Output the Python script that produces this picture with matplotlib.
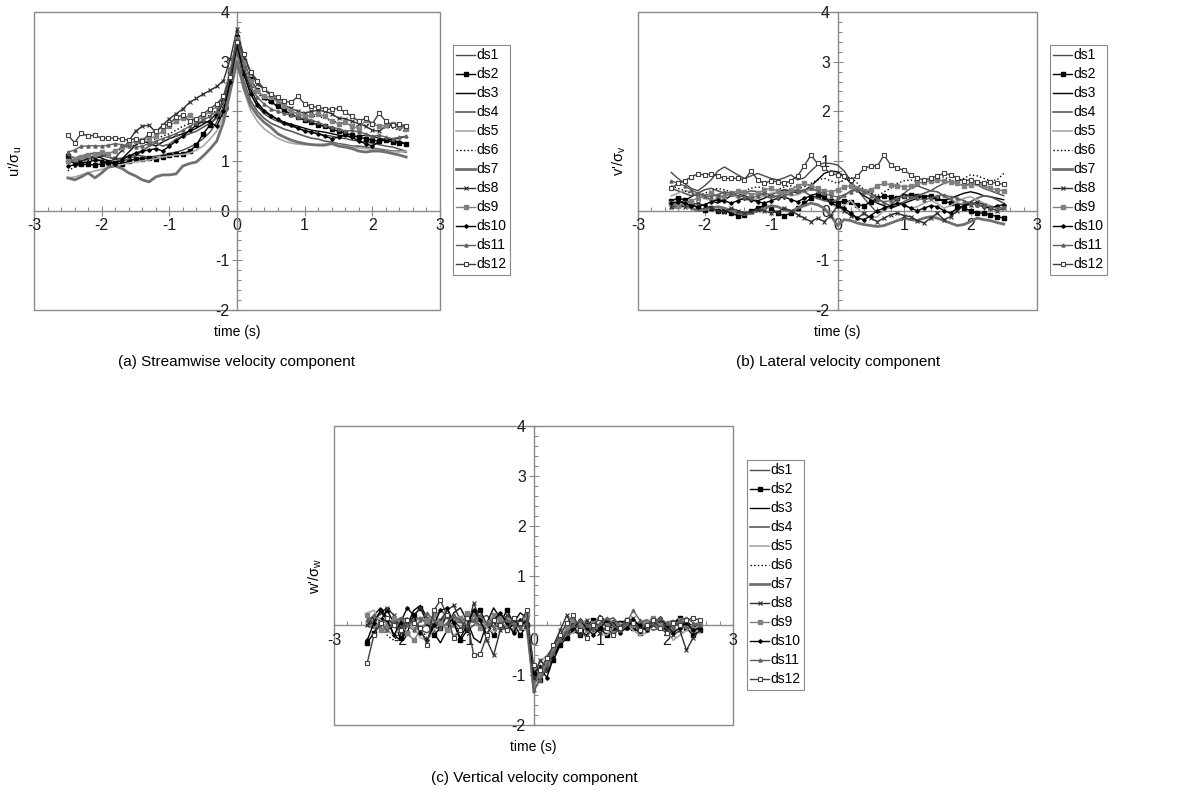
import numpy as np
import matplotlib
matplotlib.use('Agg')
import matplotlib.pyplot as plt
from matplotlib.patches import Rectangle
from matplotlib.ticker import MultipleLocator

plt.rcParams['font.family'] = ['Liberation Sans', 'DejaVu Sans']
plt.rcParams['mathtext.fontset'] = 'custom'
plt.rcParams['mathtext.rm'] = 'Liberation Sans'
plt.rcParams['mathtext.it'] = 'Liberation Sans:italic'
plt.rcParams['axes.unicode_minus'] = False

# --- time axis (s)
time_s = [-2.5, -2.4, -2.3, -2.2, -2.1, -2.0, -1.9, -1.8, -1.7, -1.6,
          -1.5, -1.4, -1.3, -1.2, -1.1, -1.0, -0.9, -0.8, -0.7, -0.6,
          -0.5, -0.4, -0.3, -0.2, -0.1,
          0.0,
          0.1, 0.2, 0.3, 0.4, 0.5,
          0.6, 0.7, 0.8, 0.9, 1.0, 1.1, 1.2, 1.3, 1.4, 1.5,
          1.6, 1.7, 1.8, 1.9, 2.0, 2.1, 2.2, 2.3, 2.4, 2.5]

series_names = ['ds1', 'ds2', 'ds3', 'ds4', 'ds5', 'ds6',
                'ds7', 'ds8', 'ds9', 'ds10', 'ds11', 'ds12']

# ------ (a) streamwise u'/sigma_u
u_ds1 = [1.05, 1.02, 1.00, 1.03, 1.08, 1.10, 1.08, 1.04, 1.06, 1.10,
         1.12, 1.10, 1.08, 1.10, 1.12, 1.15, 1.18, 1.22, 1.28, 1.35,
         1.45, 1.58, 1.78, 2.10, 2.62,
         3.30,
         2.78, 2.35, 2.10, 1.95, 1.86,
         1.80, 1.74, 1.70, 1.66, 1.62, 1.58, 1.55, 1.52, 1.50, 1.47,
         1.45, 1.42, 1.40, 1.38, 1.36, 1.33, 1.30, 1.28, 1.24, 1.20]
u_ds2 = [1.10, 0.98, 0.93, 0.93, 0.92, 0.94, 0.98, 0.96, 0.94, 1.00,
         1.04, 1.05, 1.06, 1.05, 1.08, 1.12, 1.14, 1.15, 1.20, 1.32,
         1.55, 1.72, 1.90, 2.20, 2.80,
         3.50,
         3.02, 2.65, 2.42, 2.28, 2.20,
         2.10, 2.02, 1.94, 1.88, 1.82, 1.78, 1.72, 1.70, 1.64, 1.60,
         1.56, 1.52, 1.48, 1.45, 1.42, 1.40, 1.42, 1.38, 1.36, 1.35]
u_ds3 = [1.00, 0.96, 1.00, 1.06, 1.10, 1.06, 1.00, 0.96, 1.04, 1.18,
         1.32, 1.40, 1.36, 1.30, 1.38, 1.45, 1.50, 1.55, 1.60, 1.66,
         1.74, 1.82, 1.96, 2.22, 2.72,
         3.40,
         2.85, 2.45, 2.18, 2.02, 1.92,
         1.84, 1.78, 1.74, 1.70, 1.66, 1.62, 1.60, 1.58, 1.55, 1.52,
         1.50, 1.48, 1.50, 1.52, 1.50, 1.46, 1.42, 1.44, 1.46, 1.50]
u_ds4 = [1.12, 1.06, 1.10, 1.14, 1.16, 1.12, 1.08, 1.04, 1.00, 1.04,
         1.10, 1.20, 1.30, 1.36, 1.30, 1.34, 1.44, 1.50, 1.55, 1.60,
         1.68, 1.76, 1.86, 2.06, 2.50,
         3.20,
         2.62, 2.22, 2.00, 1.86, 1.76,
         1.70, 1.64, 1.60, 1.55, 1.50, 1.46, 1.44, 1.40, 1.38, 1.35,
         1.33, 1.30, 1.30, 1.28, 1.26, 1.24, 1.22, 1.20, 1.20, 1.18]
u_ds5 = [0.66, 0.68, 0.72, 0.76, 0.80, 0.83, 0.86, 0.90, 0.93, 0.96,
         0.98, 1.00, 1.02, 1.05, 1.08, 1.10, 1.12, 1.13, 1.16, 1.22,
         1.30, 1.44, 1.60, 1.90, 2.40,
         3.08,
         2.42, 2.02, 1.80, 1.65, 1.55,
         1.46, 1.40, 1.36, 1.34, 1.33, 1.33, 1.33, 1.34, 1.35, 1.33,
         1.30, 1.28, 1.26, 1.25, 1.24, 1.22, 1.20, 1.19, 1.18, 1.20]
u_ds6 = [0.80, 0.88, 0.95, 1.00, 1.05, 1.10, 1.15, 1.20, 1.25, 1.30,
         1.32, 1.36, 1.40, 1.45, 1.50, 1.55, 1.62, 1.70, 1.75, 1.80,
         1.86, 1.92, 2.02, 2.22, 2.70,
         3.42,
         2.92, 2.56, 2.36, 2.25, 2.16,
         2.10, 2.05, 2.00, 1.96, 1.92, 1.90, 1.90, 1.86, 1.80, 1.78,
         1.75, 1.72, 1.70, 1.72, 1.76, 1.72, 1.70, 1.66, 1.62, 1.60]
u_ds7 = [0.66, 0.62, 0.68, 0.76, 0.66, 0.76, 0.88, 0.90, 0.85, 0.76,
         0.70, 0.62, 0.58, 0.68, 0.72, 0.72, 0.74, 0.90, 0.95, 0.98,
         1.10, 1.24, 1.40, 1.78, 2.40,
         3.00,
         2.48, 2.12, 1.92, 1.78, 1.68,
         1.55, 1.48, 1.42, 1.38, 1.35, 1.33, 1.32, 1.32, 1.35, 1.30,
         1.28, 1.25, 1.20, 1.18, 1.20, 1.20, 1.18, 1.15, 1.12, 1.08]
u_ds8 = [1.05, 1.00, 1.06, 1.10, 1.05, 1.00, 0.96, 1.06, 1.22, 1.40,
         1.60, 1.70, 1.72, 1.58, 1.72, 1.85, 1.95, 2.05, 2.18, 2.26,
         2.35, 2.42, 2.50, 2.62, 3.05,
         3.65,
         3.10, 2.78, 2.56, 2.44, 2.32,
         2.22, 2.12, 2.06, 2.00, 1.96, 2.00, 2.02, 2.00, 1.95, 1.86,
         1.85, 1.80, 1.75, 1.70, 1.62, 1.60, 1.70, 1.72, 1.70, 1.68]
u_ds9 = [1.00, 1.04, 1.08, 1.12, 1.15, 1.18, 1.15, 1.20, 1.28, 1.34,
         1.40, 1.42, 1.45, 1.50, 1.60, 1.70, 1.80, 1.86, 1.92, 1.80,
         1.90, 2.00, 2.10, 2.30, 2.85,
         3.45,
         3.00, 2.62, 2.40, 2.30, 2.28,
         2.20, 2.10, 2.00, 1.95, 1.90, 1.92, 1.95, 1.90, 1.80, 1.75,
         1.78, 1.70, 1.65, 1.82, 1.75, 1.70, 1.72, 1.75, 1.68, 1.65]
u_ds10 = [0.90, 0.92, 0.96, 0.98, 1.02, 1.00, 0.96, 0.94, 1.02, 1.10,
          1.16, 1.20, 1.22, 1.25, 1.20, 1.30, 1.40, 1.50, 1.62, 1.72,
          1.80, 1.78, 1.70, 2.00, 2.60,
          3.35,
          2.75, 2.35, 2.12, 2.00, 1.90,
          1.84, 1.76, 1.72, 1.66, 1.60, 1.58, 1.55, 1.50, 1.45, 1.48,
          1.52, 1.48, 1.40, 1.35, 1.30, 1.40, 1.45, 1.42, 1.38, 1.35]
u_ds11 = [1.18, 1.22, 1.30, 1.30, 1.31, 1.30, 1.32, 1.35, 1.33, 1.30,
          1.28, 1.30, 1.35, 1.40, 1.45, 1.50, 1.55, 1.62, 1.70, 1.76,
          1.82, 1.90, 2.00, 2.20, 2.75,
          3.45,
          2.90, 2.50, 2.28, 2.15, 2.05,
          2.00, 1.96, 1.92, 1.88, 1.85, 1.82, 1.78, 1.72, 1.68, 1.65,
          1.60, 1.62, 1.58, 1.55, 1.50, 1.52, 1.48, 1.45, 1.48, 1.50]
u_ds12 = [1.52, 1.37, 1.56, 1.50, 1.52, 1.46, 1.46, 1.46, 1.44, 1.42,
          1.45, 1.40, 1.55, 1.60, 1.70, 1.75, 1.88, 1.93, 1.80, 1.85,
          1.95, 2.05, 2.15, 2.30, 2.70,
          3.40,
          3.15, 2.80, 2.62, 2.45, 2.35,
          2.28, 2.20, 2.18, 2.30, 2.15, 2.10, 2.08, 2.05, 2.04, 2.06,
          1.98, 1.90, 1.80, 1.86, 1.75, 1.96, 1.80, 1.72, 1.75, 1.70]

# ------ (b) lateral v'/sigma_v
v_ds1 = [0.77, 0.65, 0.55, 0.45, 0.40, 0.50, 0.62, 0.80, 0.88, 0.80,
         0.72, 0.65, 0.70, 0.75, 0.70, 0.65, 0.62, 0.66, 0.72, 0.62,
         0.66, 0.80, 0.92, 0.96, 0.95,
         0.92,
         0.80, 0.60, 0.42, 0.25, 0.10,
         -0.05, 0.00, 0.10, 0.25, 0.35, 0.45, 0.50, 0.45, 0.40, 0.48,
         0.55, 0.60, 0.55, 0.50, 0.55, 0.52, 0.45, 0.40, 0.35, 0.30]
v_ds2 = [0.20, 0.25, 0.22, 0.15, 0.05, 0.02, 0.05, 0.00, 0.00, -0.05,
         -0.10, -0.08, 0.00, 0.05, 0.10, 0.05, -0.05, -0.10, -0.05, 0.05,
         0.15, 0.25, 0.30, 0.28, 0.20,
         0.15,
         0.20, 0.18, 0.12, 0.10, 0.18,
         0.25, 0.30, 0.28, 0.25, 0.30, 0.32, 0.30, 0.28, 0.30, 0.25,
         0.20, 0.15, 0.10, 0.05, 0.00, -0.05, -0.05, -0.08, -0.12, -0.15]
v_ds3 = [0.10, 0.15, 0.20, 0.28, 0.35, 0.30, 0.20, 0.15, 0.22, 0.30,
         0.35, 0.30, 0.25, 0.20, 0.25, 0.32, 0.38, 0.42, 0.40, 0.35,
         0.40, 0.50, 0.62, 0.75, 0.80,
         0.78,
         0.70, 0.55, 0.40, 0.30, 0.22,
         0.15, 0.10, 0.05, 0.10, 0.15, 0.20, 0.25, 0.30, 0.28, 0.22,
         0.20, 0.25, 0.30, 0.35, 0.38, 0.35, 0.30, 0.28, 0.25, 0.22]
v_ds4 = [0.45, 0.40, 0.35, 0.30, 0.35, 0.42, 0.45, 0.40, 0.35, 0.30,
         0.28, 0.35, 0.40, 0.38, 0.30, 0.25, 0.30, 0.35, 0.40, 0.42,
         0.38, 0.30, 0.25, 0.20, 0.18,
         0.22,
         0.30, 0.40, 0.45, 0.42, 0.35,
         0.25, 0.15, 0.10, 0.12, 0.18, 0.25, 0.30, 0.35, 0.40, 0.38,
         0.30, 0.22, 0.15, 0.12, 0.18, 0.25, 0.30, 0.28, 0.22, 0.15]
v_ds5 = [0.30, 0.35, 0.40, 0.38, 0.30, 0.25, 0.20, 0.25, 0.30, 0.32,
         0.28, 0.22, 0.20, 0.25, 0.30, 0.35, 0.38, 0.35, 0.30, 0.32,
         0.38, 0.42, 0.40, 0.30, 0.15,
         0.05,
         0.10, 0.20, 0.05, -0.08, -0.15,
         -0.12, 0.00, 0.10, 0.15, 0.10, 0.05, 0.08, 0.15, 0.20, 0.15,
         0.05, 0.10, 0.18, 0.25, 0.28, 0.22, 0.15, 0.10, 0.05, 0.00]
v_ds6 = [0.50, 0.45, 0.40, 0.35, 0.30, 0.35, 0.40, 0.45, 0.42, 0.38,
         0.35, 0.40, 0.45, 0.48, 0.45, 0.40, 0.42, 0.48, 0.50, 0.45,
         0.48, 0.55, 0.62, 0.65, 0.60,
         0.55,
         0.62, 0.68, 0.55, 0.42, 0.35,
         0.30, 0.38, 0.45, 0.55, 0.60, 0.62, 0.58, 0.55, 0.60, 0.65,
         0.68, 0.62, 0.58, 0.65, 0.72, 0.70, 0.65, 0.60, 0.62, 0.75]
v_ds7 = [0.05, 0.08, 0.10, 0.05, 0.00, 0.02, 0.05, 0.08, 0.05, 0.00,
         -0.05, -0.08, -0.05, 0.00, 0.05, 0.10, 0.08, 0.02, -0.02, 0.05,
         0.10, 0.15, 0.12, 0.05, -0.10,
         -0.30,
         -0.18, -0.20, -0.25, -0.28, -0.30,
         -0.32, -0.30, -0.25, -0.20, -0.15, -0.18, -0.20, -0.15, -0.12, -0.15,
         -0.20, -0.25, -0.30, -0.28, -0.22, -0.15, -0.18, -0.20, -0.24, -0.27]
v_ds8 = [0.08, 0.10, 0.08, 0.12, 0.15, 0.10, 0.05, 0.00, -0.02, 0.05,
         0.00, -0.05, -0.02, 0.02, 0.00, -0.05, -0.02, 0.05, 0.00, -0.08,
         -0.15, -0.22, -0.15, -0.22, -0.10,
         0.10,
         0.00, -0.10, -0.15, -0.05, -0.15,
         -0.22, -0.15, -0.08, -0.05, -0.10, -0.12, -0.20, -0.25, -0.15, -0.05,
         -0.18, -0.12, 0.00, 0.10, 0.12, 0.18, 0.12, 0.05, 0.00, 0.05]
v_ds9 = [0.15, 0.10, 0.15, 0.20, 0.25, 0.30, 0.35, 0.30, 0.28, 0.35,
         0.40, 0.38, 0.32, 0.35, 0.42, 0.45, 0.40, 0.35, 0.42, 0.50,
         0.55, 0.50, 0.45, 0.40, 0.38,
         0.42,
         0.48, 0.50, 0.45, 0.40, 0.42,
         0.50, 0.55, 0.52, 0.50, 0.48, 0.50, 0.55, 0.58, 0.60, 0.62,
         0.60, 0.58, 0.55, 0.50, 0.52, 0.55, 0.50, 0.45, 0.42, 0.40]
v_ds10 = [0.15, 0.18, 0.15, 0.10, 0.08, 0.12, 0.18, 0.22, 0.20, 0.15,
          0.20, 0.25, 0.22, 0.18, 0.15, 0.20, 0.25, 0.28, 0.22, 0.18,
          0.25, 0.30, 0.35, 0.28, 0.15,
          0.10,
          0.05, -0.05, -0.15, -0.18, -0.10,
          0.00, 0.05, 0.10, 0.15, 0.12, 0.05, 0.00, 0.05, 0.10, 0.08,
          0.00, -0.05, 0.05, 0.10, 0.15, 0.12, 0.08, 0.05, 0.10, 0.12]
v_ds11 = [0.60, 0.55, 0.50, 0.42, 0.35, 0.30, 0.28, 0.32, 0.38, 0.35,
          0.30, 0.28, 0.25, 0.30, 0.35, 0.32, 0.28, 0.30, 0.35, 0.40,
          0.42, 0.45, 0.40, 0.35, 0.30,
          0.28,
          0.32, 0.38, 0.42, 0.38, 0.30,
          0.22, 0.18, 0.20, 0.25, 0.30, 0.28, 0.25, 0.22, 0.25, 0.30,
          0.32, 0.28, 0.25, 0.20, 0.15, 0.12, 0.10, 0.08, 0.05, 0.08]
v_ds12 = [0.45, 0.55, 0.60, 0.68, 0.74, 0.72, 0.74, 0.70, 0.65, 0.65,
          0.65, 0.62, 0.80, 0.62, 0.55, 0.60, 0.58, 0.55, 0.60, 0.70,
          0.90, 1.12, 0.95, 0.85, 0.75,
          0.72,
          0.70, 0.62, 0.70, 0.85, 0.90,
          0.90, 1.12, 0.92, 0.85, 0.82, 0.72, 0.65, 0.62, 0.65, 0.70,
          0.75, 0.72, 0.65, 0.60, 0.62, 0.58, 0.55, 0.58, 0.55, 0.53]

# ------ (c) vertical w'/sigma_w
w_ds1 = [0.00, 0.05, -0.05, -0.10, 0.00, 0.10, 0.15, 0.05, -0.10, -0.15,
         -0.05, 0.10, 0.20, 0.10, -0.05, -0.10, 0.00, 0.15, 0.20, 0.05,
         -0.10, -0.05, 0.10, 0.05, 0.10,
         -1.10,
         -0.90, -0.80, -0.60, -0.35, -0.20,
         -0.10, 0.05, 0.10, -0.05, -0.15, -0.05, 0.10, 0.05, -0.10, -0.05,
         0.05, 0.10, 0.00, -0.10, -0.05, 0.05, 0.10, 0.05, -0.05, -0.10]
w_ds2 = [-0.35, -0.15, 0.10, 0.30, 0.05, -0.25, -0.15, 0.20, 0.35, 0.05,
         -0.20, -0.05, 0.20, 0.05, -0.30, -0.10, 0.25, 0.30, 0.00, -0.20,
         0.05, 0.30, 0.05, -0.20, 0.00,
         -0.95,
         -1.10, -0.85, -0.70, -0.40, -0.25,
         -0.10, -0.20, 0.00, 0.10, -0.05, -0.20, -0.10, 0.05, 0.10, -0.05,
         -0.15, 0.00, 0.10, 0.00, -0.10, 0.05, 0.15, -0.05, -0.20, -0.10]
w_ds3 = [0.00, 0.20, 0.35, 0.15, -0.20, -0.30, 0.00, 0.30, 0.40, 0.15,
         -0.15, -0.35, -0.10, 0.25, 0.35, 0.10, -0.25, -0.35, 0.05, 0.35,
         0.15, -0.15, 0.05, 0.25, 0.15,
         -1.20,
         -0.80, -0.95, -0.55, -0.30, -0.10,
         0.05, -0.10, -0.20, 0.00, 0.20, 0.05, -0.10, -0.05, 0.10, 0.05,
         -0.10, -0.05, 0.10, 0.05, -0.10, 0.00, 0.15, 0.10, -0.05, 0.05]
w_ds4 = [0.15, 0.05, -0.05, -0.10, 0.05, 0.15, 0.10, -0.05, -0.10, 0.05,
         0.15, 0.30, 0.20, 0.10, 0.05, 0.15, 0.10, 0.00, -0.05, 0.10,
         0.20, 0.15, 0.05, -0.05, 0.05,
         -1.35,
         -1.05, -0.90, -0.60, -0.30, -0.15,
         -0.05, 0.05, 0.00, -0.10, -0.05, 0.10, 0.15, 0.00, -0.10, -0.05,
         0.05, 0.00, -0.10, -0.05, 0.05, 0.10, 0.00, -0.05, -0.10, -0.05]
w_ds5 = [0.25, 0.30, 0.10, -0.10, -0.20, -0.05, 0.10, -0.05, -0.25, -0.30,
         -0.10, 0.05, -0.05, -0.20, -0.10, 0.10, 0.25, 0.15, -0.05, -0.15,
         0.00, 0.15, 0.10, -0.05, -0.10,
         -0.90,
         -0.75, -0.60, -0.45, -0.30, -0.20,
         -0.15, 0.00, 0.10, -0.05, -0.15, -0.20, -0.05, 0.05, 0.00, -0.10,
         -0.20, -0.15, 0.00, 0.10, -0.05, -0.30, -0.20, -0.10, -0.05, -0.15]
w_ds6 = [0.05, 0.15, 0.00, -0.20, -0.30, -0.15, 0.05, 0.10, -0.05, -0.25,
         -0.15, 0.05, 0.15, 0.00, -0.10, 0.05, 0.10, -0.05, -0.15, 0.00,
         0.10, 0.05, -0.05, 0.00, 0.10,
         -1.00,
         -0.85, -0.70, -0.50, -0.30, -0.15,
         -0.05, -0.15, -0.10, 0.05, 0.00, -0.10, -0.15, 0.00, 0.05, -0.05,
         -0.10, 0.00, 0.05, -0.05, -0.10, 0.00, 0.05, -0.05, -0.10, 0.00]
w_ds7 = [0.00, -0.05, 0.05, 0.10, 0.05, -0.05, 0.00, 0.10, 0.15, 0.05,
         0.00, 0.10, 0.20, 0.15, 0.10, 0.15, 0.20, 0.10, 0.05, 0.10,
         0.15, 0.10, 0.05, 0.00, 0.00,
         -1.20,
         -0.95, -0.70, -0.45, -0.25, -0.10,
         0.00, 0.05, 0.00, -0.05, 0.00, 0.10, 0.05, 0.00, -0.05, 0.00,
         0.05, 0.10, 0.05, -0.05, 0.00, 0.05, 0.00, -0.05, 0.00, 0.05]
w_ds8 = [0.00, 0.10, 0.25, 0.35, 0.20, -0.05, 0.00, 0.20, 0.35, 0.15,
         0.00, 0.10, 0.30, 0.40, 0.10, -0.10, 0.45, 0.10, -0.30, -0.60,
         -0.10, 0.20, 0.10, 0.00, 0.10,
         -1.05,
         -0.70, -0.85, -0.40, -0.10, 0.20,
         -0.05, -0.20, 0.10, -0.05, -0.15, -0.05, 0.05, -0.10, 0.05, 0.15,
         -0.05, -0.10, 0.00, 0.10, -0.05, -0.20, -0.10, -0.50, -0.25, -0.10]
w_ds9 = [0.20, 0.05, -0.10, 0.00, 0.15, 0.05, -0.15, -0.30, -0.10, 0.10,
         0.20, 0.05, -0.10, 0.00, 0.15, 0.25, 0.10, -0.05, 0.05, 0.20,
         0.10, -0.05, -0.10, 0.05, 0.20,
         -0.85,
         -1.00, -0.75, -0.50, -0.25, -0.05,
         0.10, 0.00, -0.10, 0.05, 0.15, 0.00, -0.15, -0.05, 0.10, 0.00,
         -0.10, 0.05, 0.15, 0.00, -0.15, -0.05, 0.10, 0.05, -0.10, 0.00]
w_ds10 = [-0.30, 0.05, 0.30, 0.10, -0.20, 0.05, 0.35, 0.20, -0.15, -0.30,
          0.00, 0.30, 0.35, 0.05, -0.25, 0.00, 0.30, 0.10, -0.20, 0.10,
          0.25, 0.05, -0.15, 0.10, 0.00,
          -0.95,
          -0.85, -1.05, -0.65, -0.35, -0.15,
          -0.05, 0.10, -0.05, -0.20, -0.05, 0.10, 0.00, -0.15, -0.05, 0.10,
          0.00, -0.10, 0.05, 0.15, 0.00, -0.15, -0.05, 0.05, -0.10, -0.05]
w_ds11 = [0.10, 0.20, 0.05, -0.10, 0.05, 0.15, 0.00, -0.10, 0.10, 0.25,
          0.10, -0.05, 0.05, 0.20, 0.10, 0.00, 0.10, 0.20, 0.05, -0.05,
          0.05, 0.10, 0.00, -0.05, 0.05,
          -1.30,
          -1.10, -0.80, -0.55, -0.30, -0.15,
          0.00, 0.10, 0.00, -0.10, 0.05, 0.15, 0.00, -0.10, 0.05, 0.30,
          0.10, -0.05, 0.05, 0.15, 0.05, -0.05, 0.10, 0.15, 0.05, 0.00]
w_ds12 = [-0.75, -0.20, 0.05, 0.15, 0.00, -0.10, 0.10, 0.05, -0.05, -0.40,
          0.30, 0.50, 0.20, -0.25, -0.10, 0.15, -0.60, -0.58, -0.20, 0.10,
          0.00, -0.10, 0.15, 0.05, 0.30,
          -0.80,
          -0.90, -0.65, -0.40, -0.20, 0.05,
          0.20, -0.10, -0.25, 0.00, 0.15, -0.05, -0.20, -0.05, 0.10, 0.05,
          -0.10, 0.00, 0.10, -0.05, -0.15, 0.05, 0.00, 0.10, 0.15, 0.10]

u_data = [u_ds1, u_ds2, u_ds3, u_ds4, u_ds5, u_ds6, u_ds7, u_ds8, u_ds9, u_ds10, u_ds11, u_ds12]
v_data = [v_ds1, v_ds2, v_ds3, v_ds4, v_ds5, v_ds6, v_ds7, v_ds8, v_ds9, v_ds10, v_ds11, v_ds12]
w_data = [w_ds1, w_ds2, w_ds3, w_ds4, w_ds5, w_ds6, w_ds7, w_ds8, w_ds9, w_ds10, w_ds11, w_ds12]

for d in u_data + v_data + w_data:
    assert len(d) == len(time_s)


# --- excel-ish line styles
styles = {
    'ds1': dict(color='#4a4a4a', lw=1.0),
    'ds2': dict(color='black', lw=1.0, marker='s', ms=2.2),
    'ds3': dict(color='black', lw=1.0),
    'ds4': dict(color='#5a5a5a', lw=1.2),
    'ds5': dict(color='#a8a8a8', lw=1.2),
    'ds6': dict(color='black', lw=1.0, ls=':'),
    'ds7': dict(color='#707070', lw=2.0),
    'ds8': dict(color='#303030', lw=1.0, marker='x', ms=3.5, mew=0.8),
    'ds9': dict(color='#808080', lw=1.0, marker='s', ms=2.2),
    'ds10': dict(color='black', lw=1.0, marker='D', ms=1.8),
    'ds11': dict(color='#606060', lw=1.0, marker='^', ms=2.2),
    'ds12': dict(color='#404040', lw=1.0, marker='s', ms=3.2, mfc='white', mew=0.8),
}

axis_grey = '#8a8a8a'
W, H = 1190, 792


def draw_panel(ax, curves, ylabel, legend_xy):

    for name, vals in zip(series_names, curves):
        ax.plot(time_s, vals, label=name, zorder=3, **styles[name])

    ax.set_xlim(-3, 3)
    ax.set_ylim(-2, 4)

    # axes cross at the origin, box drawn round the plot area
    ax.spines['left'].set_position(('data', 0))
    ax.spines['bottom'].set_position(('data', 0))
    ax.spines['top'].set_visible(False)
    ax.spines['right'].set_visible(False)
    for s in ['left', 'bottom']:
        ax.spines[s].set_color(axis_grey)
        ax.spines[s].set_linewidth(1.0)
    ax.add_patch(Rectangle((0, 0), 1, 1, transform=ax.transAxes, fill=False,
                           ec=axis_grey, lw=1.0, clip_on=False, zorder=1))

    ax.xaxis.set_major_locator(MultipleLocator(1))
    ax.xaxis.set_minor_locator(MultipleLocator(0.2))
    ax.yaxis.set_major_locator(MultipleLocator(1))
    ax.yaxis.set_minor_locator(MultipleLocator(0.2))
    ax.tick_params(which='major', direction='inout', length=7, width=0.8,
                   color=axis_grey, labelsize=11.5, labelcolor='#1a1a1a', pad=2)
    ax.tick_params(which='minor', direction='in', length=3, width=0.8, color=axis_grey)

    ax.set_xlabel('time (s)', fontsize=10)
    ax.xaxis.set_label_coords(0.5, -0.05)
    ax.set_ylabel(ylabel, fontsize=10.5)
    ax.yaxis.set_label_coords(-0.025, 0.5)

    leg = ax.legend(loc='upper left', bbox_to_anchor=(legend_xy[0] / W, 1 - legend_xy[1] / H),
                    bbox_transform=fig.transFigure, fontsize=10, frameon=True,
                    fancybox=False, edgecolor=axis_grey, handlelength=1.35,
                    handletextpad=0.1, labelspacing=0.36, borderpad=0.25,
                    borderaxespad=0, framealpha=1)
    leg.get_frame().set_linewidth(0.8)


fig = plt.figure(figsize=(W / 100, H / 100), dpi=100)

ax_a = fig.add_axes([34 / W, 1 - 310 / H, 406 / W, 298 / H])
ax_b = fig.add_axes([638 / W, 1 - 310 / H, 399 / W, 298 / H])
ax_c = fig.add_axes([334 / W, 1 - 725 / H, 399 / W, 299 / H])

draw_panel(ax_a, u_data, "u'/σ$_\\mathrm{u}$", (453, 45))
draw_panel(ax_b, v_data, "v'/σ$_\\mathrm{v}$", (1050, 45))
draw_panel(ax_c, w_data, "w'/σ$_\\mathrm{w}$", (747, 460))

fig.text(237 / W, 1 - 362 / H, '(a) Streamwise velocity component', ha='center', va='center', fontsize=11)
fig.text(838 / W, 1 - 362 / H, '(b) Lateral velocity component', ha='center', va='center', fontsize=11)
fig.text(534 / W, 1 - 778 / H, '(c) Vertical velocity component', ha='center', va='center', fontsize=11)

fig.savefig('out.png', dpi=100)
